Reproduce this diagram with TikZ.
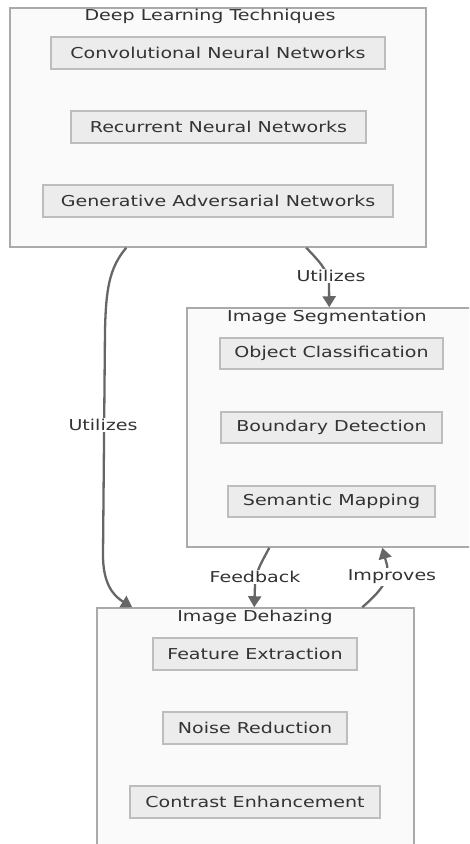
\documentclass[tikz,border=0pt]{standalone}
\usepackage{graphicx}
\usepackage{fontspec}
\setmainfont{DejaVu Sans}
\usetikzlibrary{arrows.meta}
\definecolor{clfill}{HTML}{FAFAFA}
\definecolor{clline}{HTML}{AAAAAA}
\definecolor{ndfill}{HTML}{ECECEC}
\definecolor{ndline}{HTML}{BDBDBD}
\definecolor{txt}{HTML}{333333}
\definecolor{edgec}{HTML}{666666}
\newcommand{\tx}[1]{\scalebox{1.27}[1]{#1}}
\tikzset{
  cluster/.style={draw=clline, fill=clfill, line width=1.5pt, rectangle, inner sep=0pt},
  item/.style={draw=ndline, fill=ndfill, line width=1.5pt, rectangle, inner sep=0pt, minimum height=32pt, text=txt, font=\fontsize{15}{17}\selectfont},
  ttl/.style={text=txt, font=\fontsize{15}{17}\selectfont, inner sep=0pt},
  edge/.style={draw=edgec, line width=2.3pt, -{Triangle[width=13pt,length=11pt]}},
  elab/.style={fill=white, text=txt, font=\fontsize{15}{17}\selectfont, inner sep=1.5pt}
}
\begin{document}
\begin{tikzpicture}[x=1pt,y=-1pt]
\useasboundingbox[fill=white] (0,0) rectangle (469,844);
\clip (0,0) rectangle (469,844);
% clusters
\node[cluster, minimum width=416pt, minimum height=239pt] (dl) at (218,127.5) {};
\node[ttl] (dlt) at (210,16.5) {\tx{Deep Learning Techniques}};
\node[cluster, minimum width=287pt, minimum height=239pt] (seg) at (330.5,427.5) {};
\node[ttl] (segt) at (327,317.5) {\tx{Image Segmentation}};
\node[cluster, minimum width=317pt, minimum height=244pt] (dh) at (255.5,730) {};
\node[ttl] (dht) at (255,617.5) {\tx{Image Dehazing}};
% items
\node[item, minimum width=334pt] (cnn) at (218,53) {\tx{Convolutional Neural Networks}};
\node[item, minimum width=295pt] (rnn) at (218.5,127) {\tx{Recurrent Neural Networks}};
\node[item, minimum width=350pt] (gan) at (218,201) {\tx{Generative Adversarial Networks}};
\node[item, minimum width=223pt, minimum height=31pt] (oc) at (331.5,353.5) {\tx{Object Classification}};
\node[item, minimum width=221pt, minimum height=31pt] (bd) at (331.5,427.5) {\tx{Boundary Detection}};
\node[item, minimum width=207pt, minimum height=31pt] (sm) at (331.5,501.5) {\tx{Semantic Mapping}};
\node[item, minimum width=204pt] (fe) at (255,654) {\tx{Feature Extraction}};
\node[item, minimum width=184pt] (nr) at (255,728) {\tx{Noise Reduction}};
\node[item, minimum width=250pt] (ce) at (255,802) {\tx{Contrast Enhancement}};
% edges
\coordinate (a1) at ([xshift=117pt]dl.south west);
\coordinate (a2) at ([xshift=36pt]dh.north west);
\draw[edge] (a1) .. controls (109,268) and (106,290) .. (105,330) -- (103,555) .. controls (103,582) and (112,595) .. (a2);
\node[elab] (l1) at (103,425) {\tx{Utilizes}};
\coordinate (b1) at ([xshift=297pt]dl.south west);
\coordinate (b2) at ([xshift=143pt]seg.north west);
\draw[edge] (b1) .. controls (318,260) and (328,270) .. (329,283) -- (b2);
\node[elab] (l2) at (331,276) {\tx{Utilizes}};
\coordinate (c1) at ([xshift=83pt]seg.south west);
\coordinate (c2) at ([xshift=158pt]dh.north west);
\draw[edge] (c1) .. controls (262,562) and (256,570) .. (255,585) -- (c2);
\node[elab] (l3) at (255,577) {\tx{Feedback}};
\coordinate (d1) at ([xshift=266pt]dh.north west);
\coordinate (d2) at ([xshift=196pt]seg.south west);
\draw[edge] (d1) .. controls (380,592) and (390,580) .. (387,565) -- (d2);
\node[elab] (l4) at (392,577) {\tx{Improves}};
\end{tikzpicture}
\end{document}
